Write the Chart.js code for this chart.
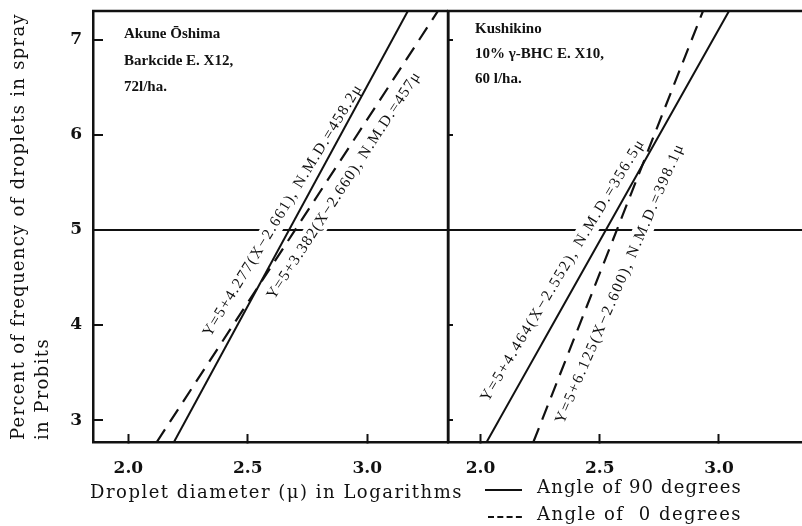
<!DOCTYPE html>
<html>
<head>
<meta charset="utf-8">
<script src="https://cdn.jsdelivr.net/npm/chart.js@4.4.0/dist/chart.umd.min.js"></script>
<style>
  html, body { margin: 0; padding: 0; background: #fff; }
  #wrap { position: relative; width: 802px; height: 526px; overflow: hidden; background: #fff; }
  #wrap canvas { position: absolute; top: 0; }
  #left { left: 0; }
  #right { left: 440px; }
</style>
</head>
<body>
<div id="wrap">
  <canvas id="left" width="802" height="526"></canvas>
  <canvas id="right" width="362" height="526"></canvas>
</div>
<script>
// values: x = droplet diameter (log), y = probit
const probitEnds = [2.77, 7.3];       // bottom and top of each fitted line
const oshima90 = [2.191, 3.170];       // x at probitEnds, Akune Oshima, 90 deg
const oshima0 = [2.119, 3.296];        // Akune Oshima, 0 deg
const kushi90 = [2.026, 3.042];        // Kushikino, 90 deg
const kushi0 = [2.222, 2.933];         // Kushikino, 0 deg

const xTickValues = [2.0, 2.5, 3.0];
const yTickValues = [3, 4, 5, 6, 7];

const oshimaEq = ['Y=5+4.277(X−2.661), N.M.D.=458.2μ', 'Y=5+3.382(X−2.660), N.M.D.=457μ'];
const kushiEq = ['Y=5+4.464(X−2.552), N.M.D.=356.5μ', 'Y=5+6.125(X−2.600), N.M.D.=398.1μ'];
const oshimaNote = ['Akune Ōshima', 'Barkcide E. X12,', '72l/ha.'];
const kushiNote = ['Kushikino', '10% γ-BHC E. X10,', '60 l/ha.'];
const seriesLabels = ['Angle of 90 degrees', 'Angle of  0 degrees'];
const xTitle = 'Droplet diameter (μ) in Logarithms';
const yTitle = ['Percent of frequency of droplets in spray', 'in Probits'];

const INK = '#111';
const DASH = [15, 9];

function pts(xs) {
  return xs.map((x, i) => ({ x: x, y: probitEnds[i] }));
}

function fitText(ctx, text, width) {
  ctx.letterSpacing = '0px';
  const w = ctx.measureText(text).width;
  ctx.letterSpacing = ((width - w) / text.length) + 'px';
}

// equation labels along the lines, notes, frame, titles, legend
const decor = {
  id: 'decor',
  beforeDatasetsDraw(chart, args, o) { eqText(chart, o, true); },
  afterDatasetsDraw(chart, args, o) {
    eqText(chart, o, false);
    const ctx = chart.ctx, a = chart.chartArea;
    ctx.save();
    ctx.strokeStyle = INK;
    ctx.lineWidth = 2.5;
    ctx.beginPath();
    ctx.moveTo(a.left - 1, a.top);
    ctx.lineTo(a.right, a.top);
    if (o.rightEdge) {
      ctx.moveTo(a.right, a.top);
      ctx.lineTo(a.right, a.bottom);
    }
    ctx.stroke();
    // notes in the corner
    ctx.fillStyle = INK;
    ctx.font = 'bold 15px "Liberation Serif"';
    ctx.textBaseline = 'alphabetic';
    ctx.letterSpacing = '0px';
    o.note.forEach((t, i) => {
      ctx.fillText(t, a.left + o.noteX, a.top + o.noteY + i * o.noteGap);
    });
    // axis titles
    if (o.titles) {
      ctx.font = '18px "DejaVu Serif"';
      ctx.textBaseline = 'middle';
      ctx.textAlign = 'left';
      fitText(ctx, xTitle, 373);
      ctx.fillText(xTitle, 90, 493);
      ctx.save();
      ctx.translate(19, 440);
      ctx.rotate(-Math.PI / 2);
      fitText(ctx, yTitle[0], 427);
      ctx.fillText(yTitle[0], 0, 0);
      fitText(ctx, yTitle[1], 102);
      ctx.fillText(yTitle[1], 0, 24);
      ctx.restore();
    }
    // legend
    if (o.legend) {
      ctx.font = '18px "DejaVu Serif"';
      ctx.textBaseline = 'middle';
      ctx.textAlign = 'left';
      chart.data.datasets.forEach((ds, i) => {
        const y = 490 + i * 27;
        ctx.save();
        ctx.lineWidth = 2;
        ctx.setLineDash(ds.borderDash.length ? [6, 3.3] : []);
        ctx.beginPath();
        ctx.moveTo(45 + i * 3, y);
        ctx.lineTo(82, y);
        ctx.stroke();
        ctx.restore();
        fitText(ctx, ds.label, 205);
        ctx.fillText(ds.label, 97, y - 2);
      });
    }
    ctx.restore();
  }
};

function eqText(chart, o, mask) {
  const ctx = chart.ctx, xs = chart.scales.x, ys = chart.scales.y;
  o.eq.forEach((it, i) => {
    const d = chart.data.datasets[i].data;
    const x0 = xs.getPixelForValue(d[0].x), y0 = ys.getPixelForValue(d[0].y);
    const x1 = xs.getPixelForValue(d[1].x), y1 = ys.getPixelForValue(d[1].y);
    const ang = Math.atan2(y1 - y0, x1 - x0) + it.tilt;
    ctx.save();
    ctx.translate(xs.getPixelForValue(it.at[0]), ys.getPixelForValue(it.at[1]));
    ctx.rotate(ang);
    if (mask) {
      ctx.fillStyle = '#fff';
      ctx.fillRect(-it.len / 2 - 2, -10, it.len + 4, 20);
    } else {
      ctx.font = '15.5px "Liberation Serif"';
      ctx.fillStyle = INK;
      ctx.textAlign = 'left';
      ctx.textBaseline = 'middle';
      fitText(ctx, it.text, it.len);
      ctx.fillText(it.text, -it.len / 2, 0);
    }
    ctx.restore();
  });
}

function panel(canvas, lines, xMin, xMax, yWidth, showY, opts, padRight) {
  return new Chart(document.getElementById(canvas), {
    type: 'scatter',
    data: {
      datasets: [
        { label: seriesLabels[0], data: pts(lines[0]), showLine: true, borderColor: INK, borderWidth: 2, borderDash: [], pointRadius: 0 },
        { label: seriesLabels[1], data: pts(lines[1]), showLine: true, borderColor: INK, borderWidth: 2.2, borderDash: DASH, pointRadius: 0 }
      ]
    },
    options: {
      responsive: false,
      animation: false,
      devicePixelRatio: 1,
      layout: { padding: { top: 11, right: padRight, left: 0, bottom: 0 } },
      plugins: { legend: { display: false }, tooltip: { enabled: false }, decor: opts },
      scales: {
        x: {
          type: 'linear', min: xMin, max: xMax,
          afterBuildTicks: s => { s.ticks = xTickValues.map(v => ({ value: v })); },
          afterFit: s => { s.height = 84; s.paddingLeft = 0; s.paddingRight = 0; },
          grid: { drawOnChartArea: false, tickLength: -8, tickWidth: 2, tickColor: INK },
          border: { color: INK, width: 2.5 },
          ticks: { padding: 24, color: INK, font: { family: 'DejaVu Serif', size: 17, weight: 'bold' }, callback: v => v.toFixed(1) }
        },
        y: {
          type: 'linear', min: probitEnds[0], max: probitEnds[1],
          afterBuildTicks: s => { s.ticks = yTickValues.map(v => ({ value: v })); },
          afterFit: s => { s.width = yWidth; s.paddingTop = 0; s.paddingBottom = 0; },
          grid: {
            color: c => (c.tick && c.tick.value === 5) ? INK : 'rgba(0,0,0,0)',
            lineWidth: 2, tickLength: showY ? -10 : -5, tickWidth: 2, tickColor: INK
          },
          border: { color: INK, width: 2.5 },
          ticks: { display: showY, padding: 21, color: INK, font: { family: 'DejaVu Serif', size: 17, weight: 'bold' } }
        }
      }
    },
    plugins: [decor]
  });
}

panel('left', [oshima90, oshima0], 1.852, 3.338, 93, true, {
  eq: [
    { text: oshimaEq[0], at: [2.647, 5.205], len: 293, tilt: 0.05 },
    { text: oshimaEq[1], at: [2.903, 5.467], len: 269, tilt: 0 }
  ],
  note: oshimaNote, noteX: 31, noteY: 27, noteGap: 26.5,
  rightEdge: true, titles: true, legend: false
}, 354);

panel('right', [kushi90, kushi0], 1.864, 3.348, 8, false, {
  eq: [
    { text: kushiEq[0], at: [2.346, 4.575], len: 304, tilt: 0.03 },
    { text: kushiEq[1], at: [2.585, 4.438], len: 304, tilt: 0.033 }
  ],
  note: kushiNote, noteX: 27, noteY: 22, noteGap: 25,
  rightEdge: false, titles: false, legend: true
}, 0);
</script>
</body>
</html>
